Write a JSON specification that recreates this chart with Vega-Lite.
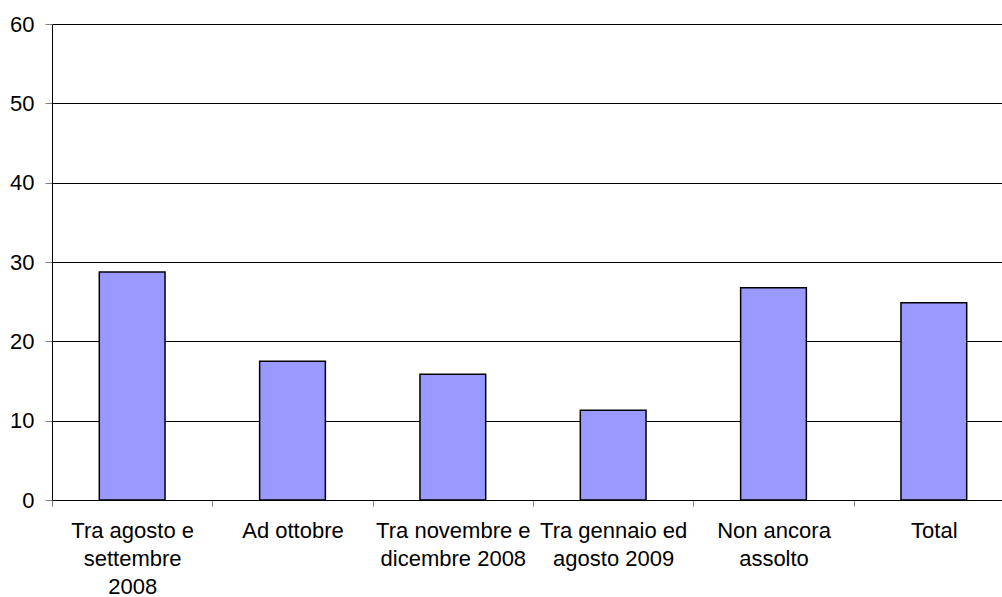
{
  "$schema": "https://vega.github.io/schema/vega-lite/v6.json",
  "autosize": "none",
  "padding": {"left": 52, "top": 24, "right": 0, "bottom": 97},
  "width": 950,
  "height": 476,
  "background": "white",
  "config": {
    "view": {"stroke": null},
    "font": "Liberation Sans"
  },
  "data": {
    "values": [
      {"periodo": "Tra agosto e|settembre|2008", "valore": 28.74},
      {"periodo": "Ad ottobre", "valore": 17.5},
      {"periodo": "Tra novembre e|dicembre 2008", "valore": 15.85},
      {"periodo": "Tra gennaio ed|agosto 2009", "valore": 11.3},
      {"periodo": "Non ancora|assolto", "valore": 26.76},
      {"periodo": "Total", "valore": 24.87}
    ]
  },
  "mark": {"type": "bar", "color": "#9999FF", "stroke": "#000000", "strokeWidth": 1.5, "width": {"band": 0.41}},
  "encoding": {
    "x": {
      "field": "periodo",
      "type": "nominal",
      "sort": null,
      "scale": {"range": [0, 962], "paddingInner": 0, "paddingOuter": 0},
      "axis": {
        "title": null,
        "labelAngle": 0,
        "labelExpr": "isValid(datum.value) ? split(datum.value, '|') : ''",
        "labelFontSize": 22,
        "labelColor": "#000000",
        "labelLineHeight": 28,
        "labelPadding": 14,
        "labelBaseline": "top",
        "tickBand": "extent",
        "tickSize": 6,
        "tickColor": "#808080",
        "domainColor": "#000000",
        "domainWidth": 1,
        "grid": false,
        "labelLimit": 0
      }
    },
    "y": {
      "field": "valore",
      "type": "quantitative",
      "scale": {"domain": [0, 60]},
      "axis": {
        "title": null,
        "values": [0, 10, 20, 30, 40, 50, 60],
        "labelFontSize": 22,
        "labelColor": "#000000",
        "labelPadding": 11,
        "tickSize": 7,
        "tickColor": "#808080",
        "domainColor": "#000000",
        "grid": true,
        "gridColor": "#000000",
        "gridOpacity": 1,
        "gridWidth": 1
      }
    }
  }
}
